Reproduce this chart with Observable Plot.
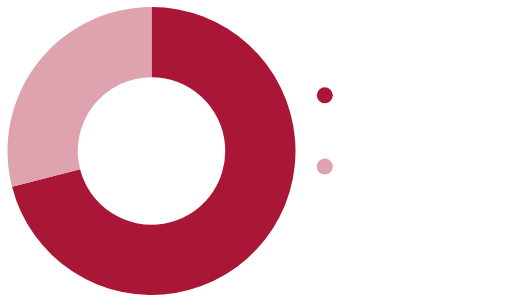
<!DOCTYPE html>
<html>
<head>
<meta charset="utf-8">
<script src="https://cdn.jsdelivr.net/npm/d3@7"></script>
<script src="https://cdn.jsdelivr.net/npm/@observablehq/plot@0.6"></script>
<style>
  html, body { margin: 0; padding: 0; background: #fff; }
</style>
</head>
<body>
<div id="chart"></div>
<script>
const categories = ["Category 1", "Category 2"];
const values = [71, 29];
const colors = ["#aa1635", "#dfa3af"];
const legendX = [1.2, 1.2];
const legendY = [0.39, -0.105];

const data = categories.map((c, i) => ({category: c, value: values[i], lx: legendX[i], ly: legendY[i]}));

const donut = (index, scales) => {
  const {x, y} = scales;
  const cx = x(0), cy = y(0), r = x(1) - x(0), ri = r * 0.512;
  const pie = d3.pie().sort(null).value(d => d.value)(data);
  const arc = d3.arc().innerRadius(ri).outerRadius(r);
  const g = d3.create("svg:g").attr("transform", `translate(${cx},${cy})`);
  const color = scales.color || (c => colors[categories.indexOf(c)]);
  g.selectAll("path").data(pie).join("path")
    .attr("d", arc)
    .attr("fill", d => color(d.data.category));
  return g.node();
};

const chart = Plot.plot({
  width: 510,
  height: 303,
  margin: 0,
  x: {domain: [-1, 1], range: [7.5, 295.5], axis: null},
  y: {domain: [-1, 1], range: [295, 7], axis: null},
  color: {domain: categories, range: colors},
  marks: [
    donut,
    Plot.dot(data, {x: "lx", y: "ly", fill: "category", r: 8, stroke: null})
  ]
});
document.getElementById("chart").appendChild(chart);
</script>
</body>
</html>
